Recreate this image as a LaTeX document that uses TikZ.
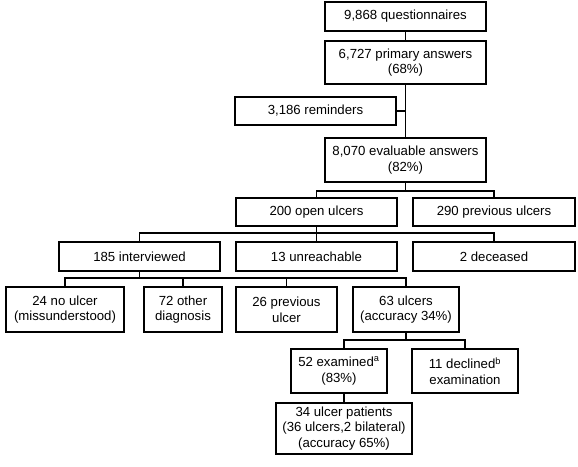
\documentclass[tikz,border=0pt]{standalone}
\usepackage{fontspec}
\setmainfont{Liberation Sans}
\begin{document}
\begin{tikzpicture}[x=0.75pt,y=-0.75pt,
  box/.style={draw, line width=0.8pt, inner sep=0pt, align=center,
    font=\fontsize{9.9}{11.7}\selectfont},
  link/.style={line width=0.8pt}]
\useasboundingbox (0,0) rectangle (578,467);
% nodes
\node[box, minimum width=161*0.75pt, minimum height=29*0.75pt] (q) at (405.5,16.5) {9,868 questionnaires};
\node[box, minimum width=161*0.75pt, minimum height=43*0.75pt] (pa) at (405.5,62.5) {6,727 primary answers\\(68\%)};
\node[box, minimum width=161*0.75pt, minimum height=28*0.75pt] (rem) at (315.5,111) {3,186 reminders};
\node[box, minimum width=161*0.75pt, minimum height=44*0.75pt] (ev) at (405.5,160) {8,070 evaluable answers\\(82\%)};
\node[box, minimum width=161*0.75pt, minimum height=28*0.75pt] (open) at (316.5,212) {200 open ulcers};
\node[box, minimum width=162*0.75pt, minimum height=28*0.75pt] (prev) at (494,212) {290 previous ulcers};
\node[box, minimum width=161*0.75pt, minimum height=29*0.75pt] (int) at (139.5,256.5) {185 interviewed};
\node[box, minimum width=161*0.75pt, minimum height=29*0.75pt] (unr) at (316.5,256.5) {13 unreachable};
\node[box, minimum width=162*0.75pt, minimum height=29*0.75pt] (dec) at (494,256.5) {2 deceased};
\node[box, minimum width=118*0.75pt, minimum height=45*0.75pt] (noul) at (65,309.5) {24 no ulcer\\(missunderstood)};
\node[box, minimum width=78*0.75pt, minimum height=45*0.75pt] (oth) at (183,309.5) {72 other\\diagnosis};
\node[box, minimum width=101*0.75pt, minimum height=45*0.75pt] (pul) at (286.5,309.5) {26 previous\\ulcer};
\node[box, minimum width=106*0.75pt, minimum height=45*0.75pt] (ulc) at (406,309.5) {63 ulcers\\(accuracy 34\%)};
\node[box, minimum width=96*0.75pt, minimum height=44*0.75pt] (exa) at (339,371) {52 examined$^{\mathrm{a}}$\\(83\%)};
\node[box, minimum width=106*0.75pt, minimum height=44*0.75pt] (dcl) at (465,371) {11 declined$^{\mathrm{b}}$\\examination};
\node[box, minimum width=136*0.75pt, minimum height=51*0.75pt] (pat) at (344,428.5) {34 ulcer patients\\(36 ulcers,2 bilateral)\\(accuracy 65\%)};
% branch coordinates
\coordinate (b1) at (405.5,191);
\coordinate (b2) at (316.5,233);
\coordinate (b3) at (139.5,278);
\coordinate (b4) at (406,340);
% connectors
\draw[link] (q.south) -- (pa.north);
\draw[link] (pa.south) -- (ev.north);
\draw[link] (rem.east) -- (rem.east -| pa.south);
\draw[link] (ev.south) -- (b1);
\draw[link] (open.north) -- (open.north |- b1) -- (prev.north |- b1) -- (prev.north);
\draw[link] (open.south) -- (b2);
\draw[link] (int.north) -- (int.north |- b2) -- (dec.north |- b2) -- (dec.north);
\draw[link] (unr.north) -- (unr.north |- b2);
\draw[link] (int.south) -- (b3);
\draw[link] (noul.north) -- (noul.north |- b3) -- (ulc.north |- b3) -- (ulc.north);
\draw[link] (oth.north) -- (oth.north |- b3);
\draw[link] (pul.north) -- (pul.north |- b3);
\draw[link] (ulc.south) -- (b4);
\draw[link] (exa.north -| pat.north) -- (pat.north |- b4) -- (dcl.north |- b4) -- (dcl.north);
\draw[link] (pat.north) -- (pat.north |- exa.south);
\end{tikzpicture}
\end{document}
